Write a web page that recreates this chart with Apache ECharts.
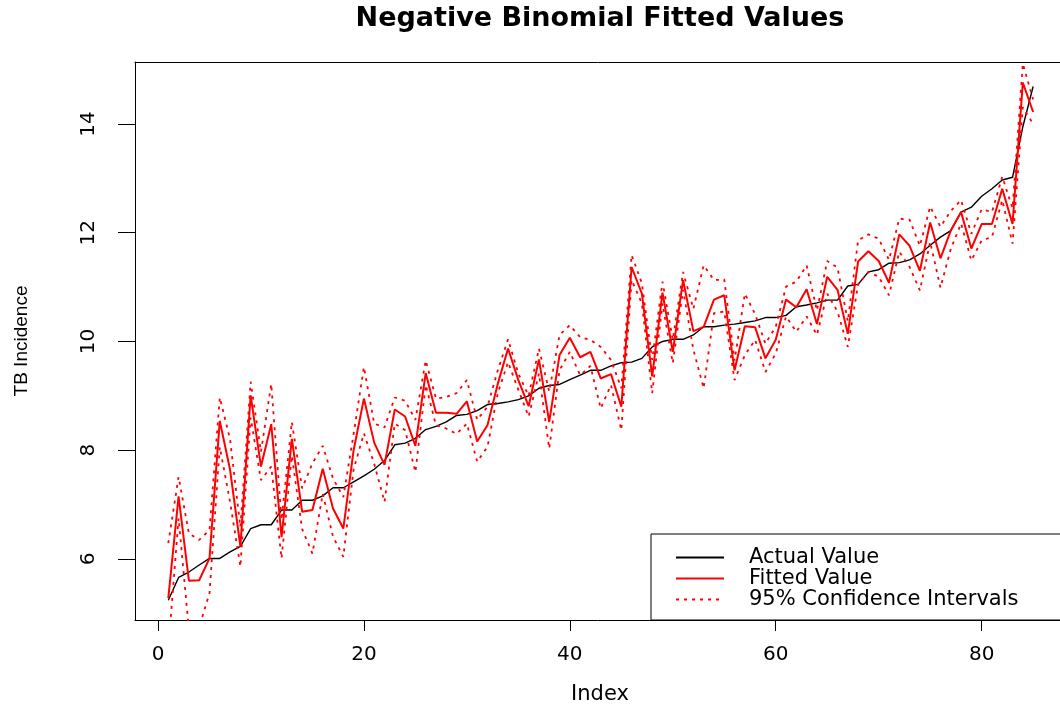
<!DOCTYPE html>
<html>
<head>
<meta charset="utf-8">
<script src="https://cdn.jsdelivr.net/npm/echarts@6/dist/echarts.min.js"></script>
<style>
html,body{margin:0;padding:0;background:#fff;overflow:hidden;}
#chart{width:1060px;height:708px;}
</style>
</head>
<body>
<div id="chart"></div>
<script>
const indexVals = [1,2,3,4,5,6,7,8,9,10,11,12,13,14,15,16,17,18,19,20,21,22,23,24,25,26,27,28,29,30,31,32,33,34,35,36,37,38,39,40,41,42,43,44,45,46,47,48,49,50,51,52,53,54,55,56,57,58,59,60,61,62,63,64,65,66,67,68,69,70,71,72,73,74,75,76,77,78,79,80,81,82,83,84,85];

const actualValue = [5.24,5.66,5.76,5.89,6.01,6.01,6.13,6.23,6.56,6.63,6.63,6.90,6.90,7.08,7.08,7.16,7.31,7.31,7.42,7.53,7.65,7.81,8.10,8.13,8.22,8.38,8.44,8.52,8.64,8.66,8.73,8.84,8.86,8.89,8.93,9.00,9.14,9.19,9.21,9.30,9.38,9.47,9.47,9.55,9.61,9.62,9.69,9.90,10.00,10.04,10.04,10.12,10.27,10.27,10.30,10.32,10.35,10.38,10.44,10.44,10.48,10.64,10.67,10.71,10.76,10.76,11.02,11.05,11.28,11.32,11.44,11.45,11.50,11.61,11.77,11.92,12.04,12.38,12.47,12.67,12.81,12.97,13.02,13.95,14.69];

const fittedValue = [5.28,7.15,5.60,5.61,6.01,8.54,7.64,6.23,9.01,7.70,8.48,6.40,8.21,6.87,6.90,7.66,6.93,6.56,8.00,8.95,8.14,7.73,8.75,8.62,8.08,9.42,8.69,8.69,8.67,8.90,8.16,8.46,9.22,9.87,9.29,8.81,9.67,8.52,9.75,10.07,9.71,9.81,9.32,9.40,8.80,11.37,10.88,9.36,10.90,9.81,11.13,10.19,10.27,10.77,10.85,9.47,10.28,10.26,9.69,10.03,10.77,10.63,10.96,10.32,11.19,10.95,10.14,11.47,11.66,11.48,11.08,11.97,11.76,11.30,12.19,11.53,12.04,12.38,11.71,12.16,12.16,12.81,12.16,14.76,14.22];

const upperCI = [6.29,7.51,6.47,6.35,6.53,8.97,8.20,6.59,9.26,7.97,9.22,6.72,8.52,7.30,7.76,8.08,7.48,7.14,8.30,9.53,8.49,8.42,8.97,8.91,8.56,9.65,8.95,8.98,9.05,9.29,8.56,8.80,9.47,10.04,9.41,9.00,9.87,9.08,10.12,10.30,10.08,10.03,9.90,9.66,9.14,11.59,11.07,9.66,11.10,10.03,11.28,10.60,11.40,11.13,11.14,9.65,10.88,10.50,9.96,10.27,11.01,11.10,11.40,10.57,11.48,11.36,10.37,11.86,11.97,11.89,11.50,12.26,12.24,11.76,12.48,12.11,12.40,12.60,11.98,12.43,12.38,13.03,12.45,15.11,14.45];

const lowerCI = [4.35,6.75,4.70,4.75,5.37,8.06,7.05,5.86,8.60,7.45,7.70,6.01,7.90,6.55,6.10,7.20,6.41,6.04,7.65,8.31,7.75,7.05,8.49,8.37,7.60,9.20,8.46,8.40,8.30,8.49,7.79,8.06,9.05,9.62,9.11,8.62,9.41,8.03,9.47,9.81,9.38,9.55,8.77,9.20,8.37,11.13,10.70,9.05,10.70,9.60,10.95,9.85,9.14,10.52,10.55,9.29,9.75,10.03,9.44,9.78,10.46,10.18,10.46,10.12,10.88,10.55,9.90,11.05,11.28,11.19,10.85,11.65,11.37,10.94,11.83,10.99,11.70,12.17,11.49,11.86,11.92,12.60,11.80,14.31,14.00];

const xTicks = [0,20,40,60,80];
const yTicks = [6,8,10,12,14];

const pairs = arr => indexVals.map((x, i) => [x, arr[i]]);
const ciName = '95% Confidence Intervals';

const chart = echarts.init(document.getElementById('chart'), null, {renderer:'canvas'});
chart.setOption({
  animation: false,
  backgroundColor: '#fff',
  grid: {left:135, top:62, right:0, bottom:88, show:false, containLabel:false},
  xAxis: [{
    type:'value', min:-2.234, max:87.61, position:'bottom',
    axisLine:{show:true, onZero:false, lineStyle:{color:'#000', width:1}},
    splitLine:{show:false},
    axisTick:{show:true, length:11, lineStyle:{color:'#000', width:1}, customValues: xTicks},
    axisLabel:{color:'#000', fontFamily:'DejaVu Sans', fontSize:20, margin:25, customValues: xTicks}
  },{
    type:'value', min:-2.234, max:87.61, position:'top',
    axisLine:{show:true, onZero:false, lineStyle:{color:'#000', width:1}},
    splitLine:{show:false}, axisTick:{show:false}, axisLabel:{show:false}
  }],
  yAxis: {
    type:'value', min:4.878, max:15.14,
    axisLine:{show:true, onZero:false, lineStyle:{color:'#000', width:1}},
    splitLine:{show:false},
    axisTick:{show:true, length:17, lineStyle:{color:'#000', width:1}, customValues: yTicks},
    axisLabel:{color:'#000', fontFamily:'DejaVu Sans', fontSize:20, margin:36, rotate:90, customValues: yTicks}
  },
  legend: {
    orient:'vertical', left:651, top:534,
    padding:[13,10,11,24],
    itemWidth:48, itemHeight:14, itemGap:0,
    selectedMode:false,
    itemStyle:{opacity:0},
    data:['Actual Value','Fitted Value',ciName],
    textStyle:{color:'#000', fontFamily:'DejaVu Sans', fontSize:21, lineHeight:21, padding:[0,0,0,20]}
  },
  graphic: [
    {type:'rect', x:651, y:534, z:10, shape:{width:460, height:86}, style:{fill:null, stroke:'#000', lineWidth:1}},
    {type:'text', x:600, y:19, style:{text:'Negative Binomial Fitted Values', fill:'#000', font:'bold 27px "DejaVu Sans"', textAlign:'center', textVerticalAlign:'middle'}},
    {type:'text', x:600, y:695, style:{text:'Index', fill:'#000', font:'21px "DejaVu Sans"', textAlign:'center', textVerticalAlign:'middle'}},
    {type:'text', x:22, y:341, rotation:Math.PI/2, style:{text:'TB Incidence', fill:'#000', font:'19px "Liberation Sans"', textAlign:'center', textVerticalAlign:'middle'}}
  ],
  series: [
    {name:'Actual Value', type:'line', data:pairs(actualValue), symbol:'none', color:'#000', lineStyle:{color:'#000', width:1.4}, z:2},
    {name:'Fitted Value', type:'line', data:pairs(fittedValue), symbol:'none', color:'#ff0000', lineStyle:{color:'#ff0000', width:2}, z:3},
    {name:ciName, type:'line', data:pairs(upperCI), symbol:'none', color:'#ff0000', lineStyle:{color:'#ff0000', width:1.8, type:[3,5]}, z:4},
    {name:ciName, type:'line', data:pairs(lowerCI), symbol:'none', color:'#ff0000', lineStyle:{color:'#ff0000', width:1.8, type:[3,5]}, z:4}
  ]
});
</script>
</body>
</html>
